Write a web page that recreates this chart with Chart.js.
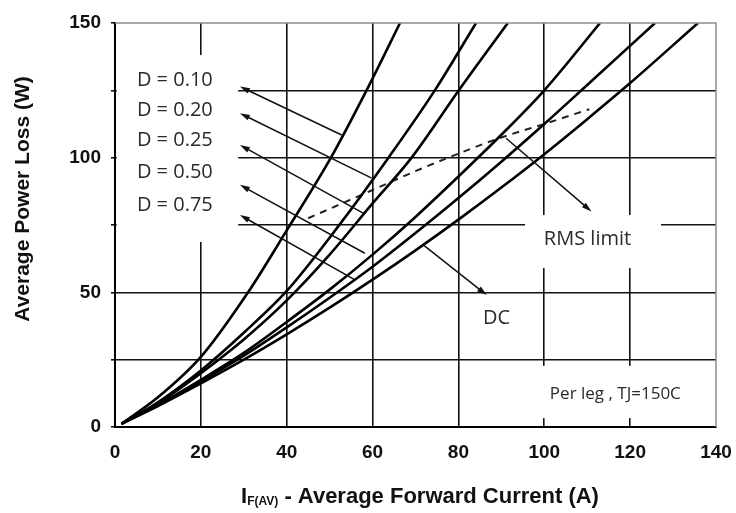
<!DOCTYPE html>
<html>
<head>
<meta charset="utf-8">
<script src="https://cdn.jsdelivr.net/npm/chart.js@4.4.0/dist/chart.umd.min.js"></script>
<style>
  html, body { margin: 0; padding: 0; background: #fff; }
</style>
</head>
<body>
<canvas id="lossChart" width="736" height="513"></canvas>
<script>
// Average power loss vs average forward current (per leg, Tj = 150C)

// Curves: forward current (A) and loss (W)
const xD010 = [1.5, 10, 20, 31, 40, 50.3, 58.6, 66.4];
const yD010 = [1.2, 11, 26, 50, 73, 100, 125, 150];

const xD020 = [1.5, 10, 20, 30, 40, 52, 63.7, 74.5, 84.1];
const yD020 = [1.2, 9.2, 21, 35, 50.5, 74.5, 100, 125, 150];

const xD025 = [1.5, 10, 20, 30, 40, 50, 60, 69.1, 80.1, 91.5];
const yD025 = [1.2, 8.8, 20, 32.5, 47, 64, 83, 100, 125, 150];

const xD050 = [1.5, 10, 20, 30, 40, 50, 60, 70, 80, 90, 100, 113];
const yD050 = [1.2, 8.2, 17.5, 27.5, 39, 51, 64, 78, 93, 108.5, 125, 150];

const xD075 = [1.5, 10, 20, 30, 40, 50, 60, 70, 80, 90, 100, 110, 125.8];
const yD075 = [1.2, 8, 17, 26.5, 37, 48, 59.5, 72, 85, 98.5, 112.5, 127, 150];

const xDC = [1.5, 10, 20, 30, 40, 50, 60, 70, 80, 90, 100, 110, 120, 135.8];
const yDC = [1.2, 7.8, 16.2, 25, 34.4, 44.3, 54.7, 65.6, 77, 88.9, 101.3, 114.3, 127.7, 150];

// RMS limit (dashed)
const xRms = [45, 50, 60, 70, 80, 90, 100, 110.5];
const yRms = [77.5, 81, 88, 95, 101.5, 107.5, 112.5, 118];

// Axis ticks
const xTicks = [0, 20, 40, 60, 80, 100, 120, 140];
const yTicks = [0, 50, 100, 150];

// Callout labels (text, x, y in data units, anchored left / middle)
const dLabels = ['D = 0.10', 'D = 0.20', 'D = 0.25', 'D = 0.50', 'D = 0.75'];
const dLabelX = 5.1;
const dLabelY = [128.9, 117.7, 106.6, 94.7, 82.4];

// Arrows: [tailX, tailY, tipX, tipY] in data units
const dArrows = [
  [52.8, 108.4, 29.1, 126.4],
  [59.8, 92.4, 29.1, 116.5],
  [57.8, 79.4, 29.1, 104.7],
  [58.2, 64.5, 29.1, 89.9],
  [55.9, 54.6, 29.1, 78.7]
];
const dcArrow = [71.8, 67.6, 86.6, 49];
const rmsArrow = [91.1, 107.2, 111, 80];

// White label backgrounds that break the grid: [x0, x1, y0, y1]
const labelBoxes = [
  [0.4, 28.7, 68.7, 138.1],
  [95.5, 127.2, 59.0, 78.7],
  [97.8, 136.3, 3.3, 22.7]
];

function pts(xs, ys) {
  return xs.map((v, i) => ({ x: v, y: ys[i] }));
}

function curve(label, xs, ys, dashed) {
  return {
    label: label,
    data: pts(xs, ys),
    borderColor: dashed ? '#222' : '#000',
    borderWidth: dashed ? 2 : 2.6,
    borderDash: dashed ? [7, 6] : [],
    pointRadius: 0,
    fill: false,
    cubicInterpolationMode: 'monotone'
  };
}

function drawArrow(ctx, x0, y0, x1, y1) {
  const ang = Math.atan2(y1 - y0, x1 - x0);
  const len = 10, half = 3;
  ctx.beginPath();
  ctx.moveTo(x0, y0);
  ctx.lineTo(x1 - Math.cos(ang) * 4, y1 - Math.sin(ang) * 4);
  ctx.stroke();
  ctx.beginPath();
  ctx.moveTo(x1, y1);
  ctx.lineTo(x1 - len * Math.cos(ang) + half * Math.sin(ang), y1 - len * Math.sin(ang) - half * Math.cos(ang));
  ctx.lineTo(x1 - len * Math.cos(ang) - half * Math.sin(ang), y1 - len * Math.sin(ang) + half * Math.cos(ang));
  ctx.closePath();
  ctx.fill();
}

const decor = {
  id: 'decor',
  beforeDatasetsDraw(chart) {
    const { ctx, scales: { x, y } } = chart;
    ctx.save();
    ctx.fillStyle = '#fff';
    labelBoxes.forEach(b => {
      const l = x.getPixelForValue(b[0]), r = x.getPixelForValue(b[1]);
      const t = y.getPixelForValue(b[3]), btm = y.getPixelForValue(b[2]);
      ctx.fillRect(l, t, r - l, btm - t);
    });
    ctx.restore();
  },
  afterDatasetsDraw(chart) {
    const { ctx, scales: { x, y } } = chart;
    ctx.save();
    ctx.strokeStyle = '#111';
    ctx.fillStyle = '#111';
    ctx.lineWidth = 1.5;
    dArrows.concat([dcArrow, rmsArrow]).forEach(a => {
      drawArrow(ctx, x.getPixelForValue(a[0]), y.getPixelForValue(a[1]),
        x.getPixelForValue(a[2]), y.getPixelForValue(a[3]));
    });

    // callout texts
    ctx.fillStyle = '#2a2a2a';
    ctx.textBaseline = 'middle';
    ctx.textAlign = 'left';
    ctx.font = '20px "Open Sans"';
    dLabels.forEach((t, i) => {
      ctx.fillText(t, x.getPixelForValue(dLabelX), y.getPixelForValue(dLabelY[i]));
    });
    ctx.fillText('RMS limit', x.getPixelForValue(99.9), y.getPixelForValue(69.8));
    ctx.fillText('DC', x.getPixelForValue(85.7), y.getPixelForValue(40.5));
    ctx.font = '17px "Open Sans"';
    ctx.fillText('Per leg , TJ=150C', x.getPixelForValue(101.3), y.getPixelForValue(12.3));
    ctx.restore();
  },
  afterDraw(chart) {
    const { ctx, chartArea: area } = chart;
    ctx.save();
    ctx.fillStyle = '#111';
    ctx.textBaseline = 'middle';

    // y title
    ctx.save();
    ctx.translate(area.left - 92, area.top + 176);
    ctx.rotate(-Math.PI / 2);
    ctx.textAlign = 'center';
    ctx.font = 'bold 21px "Liberation Sans"';
    ctx.fillText('Average Power Loss (W)', 0, 0);
    ctx.restore();

    // x title with subscript
    const big = 'bold 22px "Liberation Sans"';
    const small = 'bold 12px "Liberation Sans"';
    const partI = 'I', partSub = 'F(AV)', partRest = ' - Average Forward Current (A)';
    ctx.font = big;
    const wI = ctx.measureText(partI).width;
    const wRest = ctx.measureText(partRest).width;
    ctx.font = small;
    const wSub = ctx.measureText(partSub).width;
    const total = wI + wSub + wRest;
    let cx = 420 - total / 2;
    const cy = 497;
    ctx.textAlign = 'left';
    ctx.font = big;
    ctx.fillText(partI, cx, cy);
    cx += wI;
    ctx.font = small;
    ctx.fillText(partSub, cx, cy + 5);
    cx += wSub;
    ctx.font = big;
    ctx.fillText(partRest, cx, cy);

    // light frame on top and right
    ctx.strokeStyle = '#8c8c8c';
    ctx.lineWidth = 1.5;
    ctx.beginPath();
    ctx.moveTo(area.left, area.top);
    ctx.lineTo(area.right, area.top);
    ctx.lineTo(area.right, area.bottom);
    ctx.stroke();
    ctx.restore();
  }
};

const tickFont = { family: '"Liberation Sans"', size: 19, weight: 'bold' };

new Chart(document.getElementById('lossChart'), {
  type: 'line',
  data: {
    datasets: [
      curve('D = 0.10', xD010, yD010),
      curve('D = 0.20', xD020, yD020),
      curve('D = 0.25', xD025, yD025),
      curve('D = 0.50', xD050, yD050),
      curve('D = 0.75', xD075, yD075),
      curve('DC', xDC, yDC),
      curve('RMS limit', xRms, yRms, true)
    ]
  },
  options: {
    responsive: false,
    animation: false,
    layout: { padding: { left: 0, top: 23, right: 20, bottom: 0 } },
    plugins: {
      legend: { display: false },
      tooltip: { enabled: false }
    },
    scales: {
      x: {
        type: 'linear',
        min: 0,
        max: 140,
        afterFit: s => { s.height = 86; s.paddingLeft = 0; s.paddingRight = 0; },
        afterBuildTicks: s => { s.ticks = xTicks.map(v => ({ value: v })); },
        ticks: { font: tickFont, color: '#111', padding: 14, maxRotation: 0 },
        grid: {
          color: c => (c.tick && c.tick.value === 140) ? 'rgba(0,0,0,0)' : '#111',
          lineWidth: 1.6,
          drawTicks: false
        },
        border: { color: '#000', width: 2 }
      },
      y: {
        min: 0,
        max: 150,
        afterFit: s => { s.width = 115; s.paddingTop = 0; s.paddingBottom = 0; },
        ticks: {
          stepSize: 25,
          font: tickFont,
          color: '#111',
          padding: 10,
          callback: v => (yTicks.includes(v) ? v : '')
        },
        grid: {
          color: c => (c.tick && c.tick.value === 150) ? 'rgba(0,0,0,0)' : '#111',
          tickColor: '#111',
          lineWidth: 1.6,
          tickLength: 4
        },
        border: { color: '#000', width: 2 }
      }
    }
  },
  plugins: [decor]
});
</script>
</body>
</html>
